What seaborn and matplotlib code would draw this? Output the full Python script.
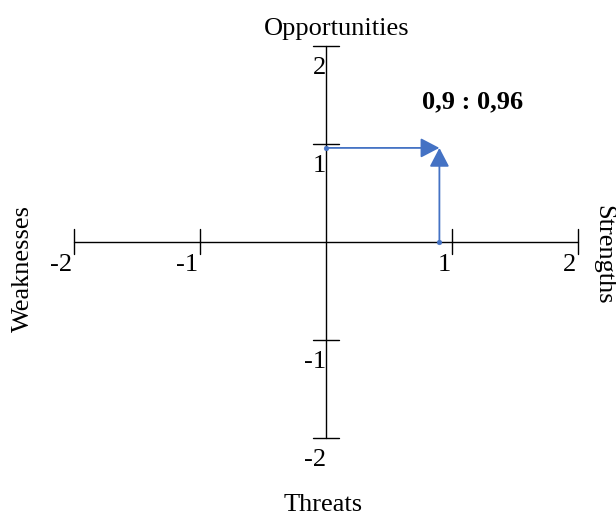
import matplotlib
matplotlib.use("Agg")
import matplotlib.pyplot as plt
import seaborn as sns
import pandas as pd

# ---- data ----
strength_score = 0.9
opportunity_score = 0.96
tick_values = [-2, -1, 1, 2]
tick_labels = ["-2", "-1", "1", "2"]
axis_titles = ["Opportunities", "Threats", "Weaknesses", "Strengths"]
point_label = "0,9 : 0,96"

sns.set_theme(style="white")
plt.rcParams["font.family"] = ["Liberation Serif", "DejaVu Serif"]
plt.rcParams["text.color"] = "black"

W, H, DPI = 616, 517, 100
fig = plt.figure(figsize=(W / DPI, H / DPI), dpi=DPI)
ax = fig.add_axes([0, 0, 1, 1])

# pixel mapping: x0 at 326 px, 126 px/unit; y0 at 242 px, 98 px/unit
x0, sx = 326, 126
y0, sy = 242, 98
ax.set_xlim(-x0 / sx, (W - x0) / sx)
ax.set_ylim(-(H - y0) / sy, y0 / sy)
ax.axis("off")

blk = "#000000"
blue = "#4472C4"
lw = 1.0

# main axes
ax.plot([min(tick_values), max(tick_values)], [0, 0], color=blk, lw=lw)
ax.plot([0, 0], [min(tick_values), max(tick_values)], color=blk, lw=lw)

# tick marks + labels
for v, lab in zip(tick_values, tick_labels):
    ax.plot([v, v], [-0.12, 0.13], color=blk, lw=lw)
    ax.annotate(lab, (v, 0), xytext=(-1, -9), textcoords="offset points",
                ha="right", va="top", fontsize=19, color=blk)
    ax.plot([-0.1, 0.1], [v, v], color=blk, lw=lw)
    ax.annotate(lab, (0, v), xytext=(0, -8), textcoords="offset points",
                ha="right", va="top", fontsize=19, color=blk)

# arrows
arrow_kw = dict(arrowstyle="-|>,head_length=1.15,head_width=0.6",
                color=blue, lw=1.3, shrinkA=0, shrinkB=0, mutation_scale=10)
ax.annotate("", xy=(strength_score, opportunity_score), xytext=(0, opportunity_score),
            arrowprops=arrow_kw)
ax.annotate("", xy=(strength_score, opportunity_score), xytext=(strength_score, 0),
            arrowprops=arrow_kw)

pts = pd.DataFrame({"x": [0, strength_score], "y": [opportunity_score, 0]})
sns.scatterplot(data=pts, x="x", y="y", ax=ax, color=blue, s=12,
                edgecolor=blue, legend=False, zorder=5)

ax.annotate(point_label, (strength_score, opportunity_score), xytext=(24, 33),
            textcoords="offset points", ha="center", va="center",
            fontsize=19, fontweight="bold", color=blk)

# axis titles
fig.text(336.5 / W, 1 - 29 / H, axis_titles[0], ha="center", va="center", fontsize=19, color=blk)
fig.text(323.5 / W, 1 - 505 / H, axis_titles[1], ha="center", va="center", fontsize=19, color=blk)
fig.text(23 / W, 1 - 268 / H, axis_titles[2], ha="center", va="center",
         rotation=90, fontsize=19, color=blk)
fig.text(603 / W, 1 - 255 / H, axis_titles[3], ha="center", va="center",
         rotation=-90, fontsize=19, color=blk)

fig.savefig("out.png", dpi=DPI)
